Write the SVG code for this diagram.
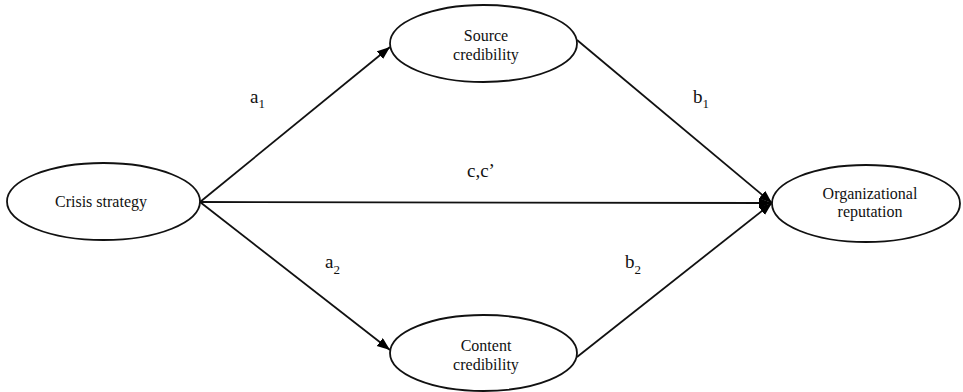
<svg xmlns="http://www.w3.org/2000/svg" width="963" height="392" viewBox="0 0 963 392">
  <style>
    .node ellipse { fill: #ffffff; stroke: #111; stroke-width: 1.8; }
    .node text { font-family: "Liberation Serif", "Times New Roman", "DejaVu Serif", serif; font-size: 16px; fill: #111; text-anchor: middle; }
    .edge { stroke: #111; stroke-width: 1.8; fill: none; marker-end: url(#arrow); }
    .lbl { font-family: "Liberation Serif", "Times New Roman", "DejaVu Serif", serif; font-size: 19px; fill: #111; }
    .sub { font-size: 13px; }
  </style>
  <defs>
    <marker id="arrow" markerUnits="userSpaceOnUse" markerWidth="15" markerHeight="11" refX="13" refY="5" orient="auto">
      <path d="M0,0 L13,5 L0,10 z" fill="#000"/>
    </marker>
  </defs>
  <rect width="963" height="392" fill="#ffffff"/>

  <g id="connectors">
    <line class="edge" x1="200" y1="202" x2="390" y2="47"/>
    <line class="edge" x1="200" y1="202" x2="390" y2="350"/>
    <line class="edge" x1="200" y1="202" x2="772" y2="203"/>
    <line class="edge" x1="577" y1="40" x2="772" y2="203"/>
    <line class="edge" x1="577" y1="357" x2="772" y2="203"/>
  </g>

  <g id="crisis-strategy" class="node">
    <ellipse cx="103.5" cy="201.5" rx="96.5" ry="38.5"/>
    <text x="101" y="207">Crisis strategy</text>
  </g>
  <g id="source-credibility" class="node">
    <ellipse cx="483.5" cy="43.5" rx="93.5" ry="38.5"/>
    <text x="486" y="41">Source</text>
    <text x="486" y="60">credibility</text>
  </g>
  <g id="content-credibility" class="node">
    <ellipse cx="483.5" cy="353" rx="93.5" ry="38"/>
    <text x="486" y="351">Content</text>
    <text x="486" y="370">credibility</text>
  </g>
  <g id="organizational-reputation" class="node">
    <ellipse cx="866" cy="203.5" rx="94" ry="38.5"/>
    <text x="870" y="199">Organizational</text>
    <text x="870" y="217">reputation</text>
  </g>

  <g id="labels">
    <text class="lbl" x="250" y="103">a<tspan class="sub" dy="5">1</tspan></text>
    <text class="lbl" x="325" y="268">a<tspan class="sub" dy="6">2</tspan></text>
    <text class="lbl" x="693" y="103">b<tspan class="sub" dy="5">1</tspan></text>
    <text class="lbl" x="625" y="268">b<tspan class="sub" dy="6">2</tspan></text>
    <text class="lbl" x="467" y="177">c,c’</text>
  </g>
</svg>
